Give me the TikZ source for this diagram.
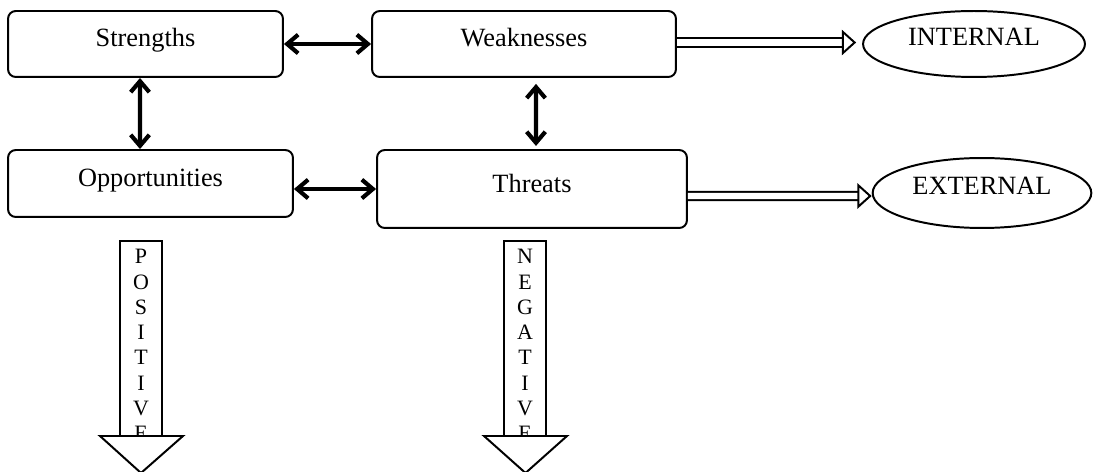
\documentclass[tikz,border=0pt]{standalone}
\usepackage{fontspec}
\setmainfont{Liberation Serif}
\usetikzlibrary{arrows.meta,shapes.geometric}

\tikzset{
  swotbox/.style={draw, rounded corners=3.5pt, line width=0.9pt, font=\fontsize{12}{14}\selectfont, text height=9pt, text depth=6.6pt},
  oval/.style={draw, ellipse, line width=0.9pt, inner sep=0pt, font=\fontsize{12}{14}\selectfont, text height=9pt, text depth=7.2pt},
  twoway/.style={line width=1.9pt, {Straight Barb[length=5pt,width=8.5pt]}-{Straight Barb[length=5pt,width=8.5pt]}},
  hollow/.style={double, double distance=2.8pt, line width=0.9pt, -{Triangle[open,length=6.5pt,width=11.5pt,line width=0.9pt]}},
  shaft/.style={draw, line width=0.9pt, minimum width=0.672cm, minimum height=3.136cm, anchor=north, inner sep=0pt},
  letters/.style={anchor=north, inner sep=0pt, align=center, font=\fontsize{10}{11.5}\selectfont}
}

\begin{document}
\begin{tikzpicture}[x=0.016cm, y=-0.016cm]

            \useasboundingbox (0,0) rectangle (1093,472);

            \node[swotbox, minimum width=4.4cm, minimum height=1.056cm] (str) at (145.5,44) {Strengths};
            \node[swotbox, minimum width=4.864cm, minimum height=1.056cm] (weak) at (524,44) {Weaknesses};
            \node[swotbox, minimum width=4.56cm, minimum height=1.072cm] (opp) at (150.5,183.5) {Opportunities};
            \node[swotbox, minimum width=4.96cm, minimum height=1.248cm, text depth=5.4pt] (thr) at (532,189) {Threats};

            \node[oval, minimum width=3.552cm, minimum height=1.056cm] (int) at (974,44) {INTERNAL};
            \node[oval, minimum width=3.5cm, minimum height=1.12cm] (ext) at (982,193) {EXTERNAL};

            \draw[twoway] (str) -- (weak);
            \draw[twoway] ([xshift=-0.088cm]str.south) -- ([xshift=-0.168cm]opp.north);
            \draw[twoway, shorten <=2.7pt, shorten >=1.4pt] ([xshift=0.192cm]weak.south) -- ([xshift=0.064cm]thr.north);
            \draw[twoway] (opp.east |- thr) -- (thr.west);

            \draw[hollow, shorten >=2.7pt] ([yshift=0.024cm]weak.east) -- ([yshift=0.024cm]int.west);
            \draw[hollow] ([yshift=-0.112cm]thr.east) -- ([yshift=-0.048cm]ext.west);

            \node[shaft] (posbar) at (141,240) {};
            \node[letters] (postext) at (141,249) {P\\O\\S\\I\\T\\I\\V\\E};
            \filldraw[fill=white, line width=0.9pt] (100,436) -- (183,436) -- (141,473) -- cycle;

            \node[shaft] (negbar) at (525,240) {};
            \node[letters] (negtext) at (525,249) {N\\E\\G\\A\\T\\I\\V\\E};
            \filldraw[fill=white, line width=0.9pt] (484,436) -- (567,436) -- (525.5,473) -- cycle;
        \end{tikzpicture}
\end{document}
